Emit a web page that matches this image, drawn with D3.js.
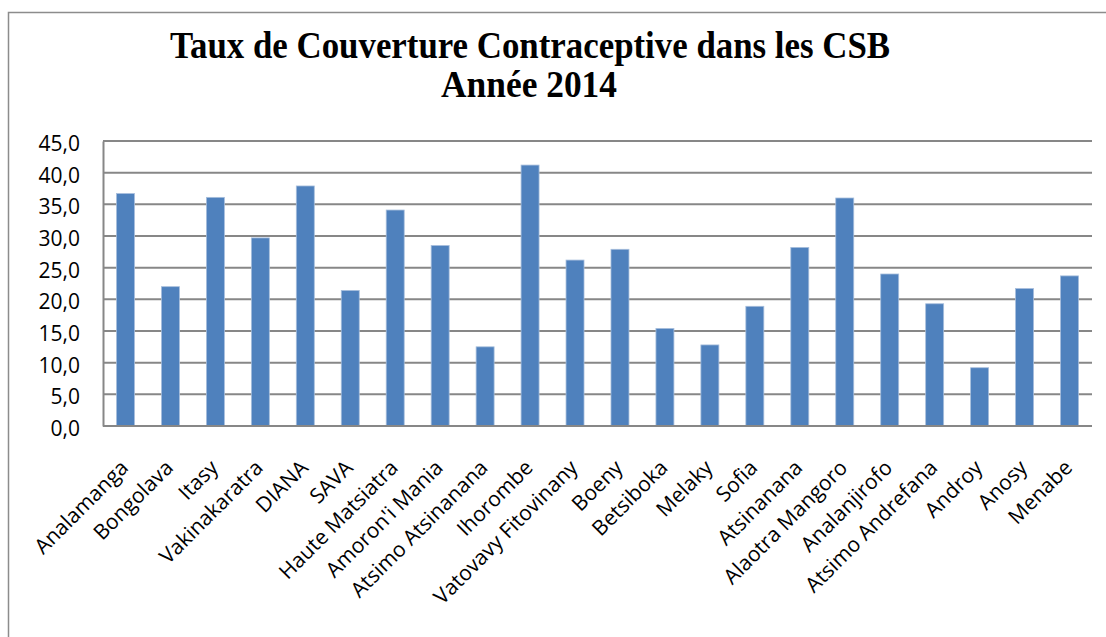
<!DOCTYPE html>
<html>
<head>
<meta charset="utf-8">
<script src="https://cdn.jsdelivr.net/npm/d3@7"></script>
<style>
  body { margin: 0; background: #fff; }
</style>
</head>
<body>
<div id="chart"></div>
<script>
// data
const regions = ['Analamanga', 'Bongolava', 'Itasy', 'Vakinakaratra', 'DIANA', 'SAVA',
  'Haute Matsiatra', "Amoron'i Mania", 'Atsimo Atsinanana', 'Ihorombe', 'Vatovavy Fitovinany',
  'Boeny', 'Betsiboka', 'Melaky', 'Sofia', 'Atsinanana', 'Alaotra Mangoro', 'Analanjirofo',
  'Atsimo Andrefana', 'Androy', 'Anosy', 'Menabe']
const taux = [36.7, 22.0, 36.1, 29.7, 37.9, 21.4, 34.1, 28.5, 12.5, 41.2, 26.2,
  27.9, 15.4, 12.8, 18.9, 28.2, 36.0, 24.0, 19.3, 9.2, 21.7, 23.7]
const yTicks = [0, 5, 10, 15, 20, 25, 30, 35, 40, 45]
const titleLines = ['Taux de Couverture Contraceptive dans les CSB', 'Année 2014']

const w = 1106
const h = 637
const plotLeft = 103, plotRight = 1092, plotTop = 141, plotBottom = 426

const svg = d3.select('#chart')
  .append('svg')
  .attr('width', w)
  .attr('height', h)

// outer frame
svg.append('rect')
  .attr('x', 8.5).attr('y', 12.5)
  .attr('width', 1120).attr('height', 660)
  .attr('fill', 'white')
  .attr('stroke', '#8c8c8c')
  .attr('stroke-width', 1.5)

// title
svg.append('text')
  .attr('x', 530).attr('y', 58)
  .attr('text-anchor', 'middle')
  .attr('textLength', 720)
  .attr('lengthAdjust', 'spacingAndGlyphs')
  .style('font-family', '"Liberation Serif", serif')
  .style('font-weight', 'bold')
  .style('font-size', '37px')
  .text(titleLines[0])

svg.append('text')
  .attr('x', 529).attr('y', 97)
  .attr('text-anchor', 'middle')
  .attr('textLength', 176)
  .attr('lengthAdjust', 'spacingAndGlyphs')
  .style('font-family', '"Liberation Serif", serif')
  .style('font-weight', 'bold')
  .style('font-size', '37px')
  .text(titleLines[1])

const x = d3.scaleBand()
  .domain(regions)
  .range([plotLeft, plotRight])
  .paddingInner(0.6)
  .paddingOuter(0.3)

const y = d3.scaleLinear()
  .domain([0, 45])
  .range([plotBottom, plotTop])

// gridlines
svg.append('g')
  .selectAll('line')
  .data(yTicks)
  .enter()
  .append('line')
  .attr('x1', plotLeft).attr('x2', plotRight)
  .attr('y1', d => y(d)).attr('y2', d => y(d))
  .attr('stroke', '#878787')
  .attr('stroke-width', 2)

// y axis labels
const yAxis = d3.axisLeft(y)
  .tickValues(yTicks)
  .tickSize(0)
  .tickPadding(23)
  .tickFormat(d => d3.format('.1f')(d).replace('.', ','))

svg.append('g')
  .attr('transform', 'translate(' + plotLeft + ',0)')
  .call(yAxis)
  .call(g => g.select('.domain').attr('stroke', '#878787').attr('stroke-width', 2))
  .selectAll('text')
  .style('font-family', '"Open Sans", sans-serif')
  .style('font-size', '21px')
  .attr('fill', '#000')
  .attr('dy', '0.45em')

// bars
svg.append('g')
  .selectAll('rect')
  .data(taux)
  .enter()
  .append('rect')
  .attr('x', (d, i) => x(regions[i]))
  .attr('width', x.bandwidth())
  .attr('y', d => y(d))
  .attr('height', d => plotBottom - y(d))
  .attr('fill', '#4f81bd')
  .attr('stroke', '#a7bedc')
  .attr('stroke-width', 0.8)

// x axis line on top of bars
svg.append('line')
  .attr('x1', plotLeft).attr('x2', plotRight)
  .attr('y1', plotBottom).attr('y2', plotBottom)
  .attr('stroke', '#878787')
  .attr('stroke-width', 2)

// rotated category labels
svg.append('g')
  .selectAll('text')
  .data(regions)
  .enter()
  .append('text')
  .attr('transform', d => 'translate(' + (x(d) + x.bandwidth() / 2 + 4) + ',' + (plotBottom + 43) + ') rotate(-45)')
  .attr('text-anchor', 'end')
  .style('font-family', '"Open Sans", sans-serif')
  .style('font-size', '21px')
  .text(d => d)
</script>
</body>
</html>
